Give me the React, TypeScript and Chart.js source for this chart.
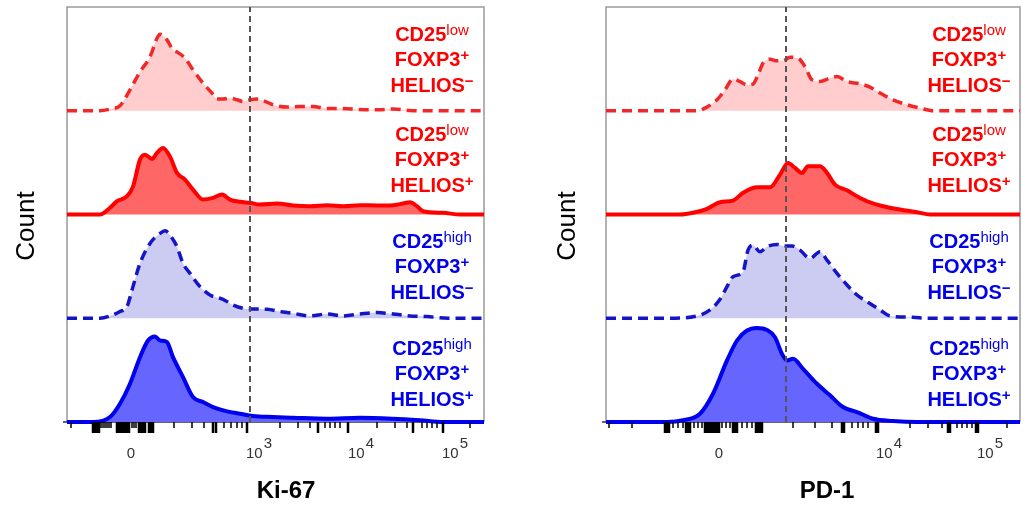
import React, { useEffect, useRef } from 'react';
import { Chart, registerables } from 'chart.js';

Chart.register(...registerables);

// ---- DATA ----
// x: display channel along the biexponential axis (0 = left edge of plot)
// y: event count, each histogram row spans ROW_SPAN units
const ROW_SPAN = 104;
const ROW_OFFSETS = [312, 208, 104, 0];

// Ki-67 panel
const KI67_CD25LO_HELIOSNEG_X = [0, 33, 43, 53, 63, 73, 83, 90, 93, 100, 106, 111, 118, 126, 136, 145, 150, 156, 163, 170, 176, 183, 190, 196, 206, 220, 233, 246, 260, 276, 293, 310, 326, 343, 360, 393, 417];
const KI67_CD25LO_HELIOSNEG_Y = [0, 0, 1.7, 5, 21, 39, 54, 72.7, 76.7, 71, 61, 58.3, 52.7, 41, 27.7, 17.7, 11.7, 11.7, 12.7, 11, 9.3, 11, 11.7, 10.3, 6, 3.7, 4.3, 4.3, 2.3, 2.3, 1.3, 1, 1.7, 0.3, 0, 0, 0];
const KI67_CD25LO_HELIOSPOS_X = [0, 33, 43, 50, 60, 66, 73, 78, 85, 90, 96, 103, 110, 118, 126, 136, 146, 155, 163, 173, 183, 193, 210, 226, 243, 260, 276, 293, 310, 326, 336, 343, 350, 356, 376, 393, 417];
const KI67_CD25LO_HELIOSPOS_Y = [0, 0, 6.7, 13.3, 18.3, 28, 55, 60, 55.7, 61.7, 66.7, 58, 41.7, 35, 25, 15, 16.7, 20, 15, 12.7, 11.7, 10, 11, 9, 8.3, 9.3, 8.3, 9.3, 9, 9.3, 11, 12.3, 8.3, 3.3, 1.7, 0, 0];
const KI67_CD25HI_HELIOSNEG_X = [0, 33, 43, 53, 60, 65, 73, 83, 93, 98, 103, 110, 116, 123, 133, 143, 156, 166, 176, 186, 200, 213, 226, 243, 260, 276, 293, 310, 326, 343, 360, 381, 417];
const KI67_CD25HI_HELIOSNEG_Y = [0, 0, 2.3, 6.7, 11.7, 28.3, 55, 75, 85, 87.7, 83.3, 71.7, 55, 45, 31.7, 23.3, 19, 13.3, 10, 9.3, 9, 6.7, 5, 2.3, 4.3, 2.3, 4.3, 5.7, 4.3, 2.3, 1.7, 0, 0];
const KI67_CD25HI_HELIOSPOS_X = [0, 26, 43, 53, 63, 73, 81, 88, 93, 100, 106, 116, 126, 136, 146, 160, 173, 186, 206, 226, 260, 293, 326, 353, 376, 417];
const KI67_CD25HI_HELIOSPOS_Y = [0, 0, 5, 18.3, 38.3, 65, 81.7, 85.7, 81.7, 80, 65, 45, 25, 20, 15, 10.7, 8.3, 6, 5, 4.3, 3.3, 4.3, 3.3, 1.7, 0, 0];
const KI67_GATE = 183;
const KI67_MAX = 417;
const KI67_MAJOR_TICKS = [26, 28, 30, 32, 50, 52, 54, 56, 58, 60, 62, 72, 74, 76, 78, 82, 84, 86, 146, 149, 180, 251, 281, 346, 376];
const KI67_MINOR_TICKS = [4, 34, 36, 38, 40, 42, 44, 65, 67, 69, 107, 125, 137, 157, 164, 170, 175, 213, 231, 243, 258, 263, 268, 273, 310, 328, 340, 355, 360, 365, 370, 403];
const KI67_LABEL_POS = [64, 192, 294, 388];
const KI67_LABEL_BASE = ['0', '10', '10', '10'];
const KI67_LABEL_EXP = ['', '3', '4', '5'];

// PD-1 panel
const PD1_CD25LO_HELIOSNEG_X = [0, 91, 101, 111, 119, 127, 134, 141, 147, 152, 157, 164, 171, 177, 184, 192, 199, 206, 214, 224, 231, 241, 254, 264, 274, 287, 301, 314, 327, 414];
const PD1_CD25LO_HELIOSNEG_Y = [0, 0, 3.7, 11, 21, 31.7, 29.3, 26, 26.7, 36, 47.7, 51.7, 50, 50, 53.7, 52.7, 44.3, 31, 29.3, 32.7, 34.3, 29.3, 27, 23.7, 17.7, 11, 6, 2.7, 0, 0];
const PD1_CD25LO_HELIOSPOS_X = [0, 74, 87, 101, 114, 127, 137, 151, 164, 174, 182, 189, 196, 202, 214, 221, 229, 241, 251, 261, 277, 294, 311, 324, 414];
const PD1_CD25LO_HELIOSPOS_Y = [0, 0, 1.7, 5.7, 12.3, 14, 21.7, 27.3, 27.3, 40, 51.7, 46.7, 41.7, 48.3, 48.3, 41.7, 30, 24.3, 18.3, 13.3, 8.3, 5, 2.3, 0, 0];
const PD1_CD25HI_HELIOSNEG_X = [0, 61, 91, 104, 114, 121, 127, 137, 142, 147, 154, 161, 171, 179, 186, 194, 204, 214, 221, 231, 241, 251, 261, 274, 284, 307, 321, 414];
const PD1_CD25HI_HELIOSNEG_Y = [0, 0, 2.3, 8.3, 19, 31.7, 41.7, 46.7, 68.3, 73.3, 66.7, 71.7, 74, 72.3, 72.3, 68.3, 60, 66.7, 58.3, 45, 33.3, 23.3, 16.7, 8.3, 2.3, 1, 0, 0];
const PD1_CD25HI_HELIOSPOS_X = [0, 61, 77, 94, 107, 121, 131, 141, 151, 161, 169, 176, 181, 187, 197, 211, 224, 237, 251, 267, 287, 311, 414];
const PD1_CD25HI_HELIOSPOS_Y = [0, 0, 1.7, 8.3, 28.3, 61.7, 81.7, 91.7, 94.3, 92.3, 85, 68.3, 61.7, 63.3, 53.3, 38.3, 26.7, 15, 10, 3.3, 1, 0, 0];
const PD1_GATE = 180;
const PD1_MAX = 414;
const PD1_MAJOR_TICKS = [59, 61, 63, 80, 82, 84, 99, 101, 103, 105, 107, 109, 111, 113, 127, 129, 131, 150, 152, 154, 156, 236, 238, 270, 272, 342, 344, 370, 372];
const PD1_MINOR_TICKS = [3, 26, 67, 72, 77, 88, 92, 96, 116, 120, 124, 136, 141, 146, 187, 209, 226, 246, 252, 257, 262, 304, 322, 336, 351, 356, 361, 366, 401];
const PD1_LABEL_POS = [113, 283, 384];
const PD1_LABEL_BASE = ['0', '10', '10'];
const PD1_LABEL_EXP = ['', '4', '5'];

const POPULATIONS = [
  { main: 'CD25', sup: 'low', helios: '\u2212' },
  { main: 'CD25', sup: 'low', helios: '+' },
  { main: 'CD25', sup: 'high', helios: '\u2212' },
  { main: 'CD25', sup: 'high', helios: '+' },
];

// ---- STYLES ----
const SERIES_STYLES = [
  { line: 'rgb(242,40,40)', fill: 'rgb(255,205,205)', dash: [10, 6], width: 3.5 },
  { line: 'rgb(255,0,0)', fill: 'rgb(255,102,102)', dash: [] as number[], width: 4 },
  { line: 'rgb(20,20,200)', fill: 'rgb(204,204,242)', dash: [10, 6], width: 3.5 },
  { line: 'rgb(0,0,238)', fill: 'rgb(102,102,255)', dash: [] as number[], width: 4 },
];
const TEXT_COLORS = ['#ff0000', '#ff0000', '#0000ee', '#0000ee'];
const FONT = '"Liberation Sans", Arial, Helvetica, sans-serif';

type PanelCfg = {
  xs: number[][];
  ys: number[][];
  gate: number;
  xMax: number;
  major: number[];
  minor: number[];
  labelPos: number[];
  labelBase: string[];
  labelExp: string[];
};

const KI67_PANEL: PanelCfg = {
  xs: [KI67_CD25LO_HELIOSNEG_X, KI67_CD25LO_HELIOSPOS_X, KI67_CD25HI_HELIOSNEG_X, KI67_CD25HI_HELIOSPOS_X],
  ys: [KI67_CD25LO_HELIOSNEG_Y, KI67_CD25LO_HELIOSPOS_Y, KI67_CD25HI_HELIOSNEG_Y, KI67_CD25HI_HELIOSPOS_Y],
  gate: KI67_GATE,
  xMax: KI67_MAX,
  major: KI67_MAJOR_TICKS,
  minor: KI67_MINOR_TICKS,
  labelPos: KI67_LABEL_POS,
  labelBase: KI67_LABEL_BASE,
  labelExp: KI67_LABEL_EXP,
};

const PD1_PANEL: PanelCfg = {
  xs: [PD1_CD25LO_HELIOSNEG_X, PD1_CD25LO_HELIOSPOS_X, PD1_CD25HI_HELIOSNEG_X, PD1_CD25HI_HELIOSPOS_X],
  ys: [PD1_CD25LO_HELIOSNEG_Y, PD1_CD25LO_HELIOSPOS_Y, PD1_CD25HI_HELIOSNEG_Y, PD1_CD25HI_HELIOSPOS_Y],
  gate: PD1_GATE,
  xMax: PD1_MAX,
  major: PD1_MAJOR_TICKS,
  minor: PD1_MINOR_TICKS,
  labelPos: PD1_LABEL_POS,
  labelBase: PD1_LABEL_BASE,
  labelExp: PD1_LABEL_EXP,
};

function makeAxisPlugin(p: PanelCfg) {
  return {
    id: 'flowAxis',
    beforeDatasetsDraw(chart: any) {
      const { ctx, chartArea: a } = chart;
      ctx.save();
      ctx.strokeStyle = '#9a9a9a';
      ctx.lineWidth = 1.5;
      ctx.beginPath();
      ctx.moveTo(a.left, a.bottom);
      ctx.lineTo(a.left, a.top);
      ctx.lineTo(a.right, a.top);
      ctx.lineTo(a.right, a.bottom);
      ctx.stroke();
      ctx.strokeStyle = '#333';
      ctx.beginPath();
      ctx.moveTo(a.left - 4, a.bottom);
      ctx.lineTo(a.right, a.bottom);
      ctx.stroke();
      ctx.restore();
    },
    afterDraw(chart: any) {
      const { ctx, chartArea: a, scales } = chart;
      const xs = scales.x;
      ctx.save();
      ctx.fillStyle = '#000';
      p.major.forEach((v) => {
        const x = xs.getPixelForValue(v);
        ctx.fillRect(x - 1.25, a.bottom, 2.5, 11);
      });
      p.minor.forEach((v) => {
        const x = xs.getPixelForValue(v);
        ctx.fillRect(x - 0.75, a.bottom, 1.5, 6);
      });
      ctx.font = '15px ' + FONT;
      ctx.fillStyle = '#333';
      ctx.textAlign = 'left';
      ctx.textBaseline = 'alphabetic';
      p.labelPos.forEach((v, i) => {
        const base = p.labelBase[i];
        const exp = p.labelExp[i];
        const wb = ctx.measureText(base).width;
        const we = exp ? ctx.measureText(exp).width + 1 : 0;
        const cx = xs.getPixelForValue(v);
        const x0 = cx - (wb + we) / 2;
        ctx.fillText(base, x0, a.bottom + 36);
        if (exp) ctx.fillText(exp, x0 + wb + 1, a.bottom + 26);
      });
      ctx.restore();
    },
  };
}

function FlowPanel({ panel, left, width, padLeft, padRight }: { panel: PanelCfg; left: number; width: number; padLeft: number; padRight: number }) {
  const ref = useRef<HTMLCanvasElement | null>(null);
  useEffect(() => {
    if (!ref.current) return;
    const datasets: any[] = [
      {
        data: [
          { x: panel.gate, y: 0 },
          { x: panel.gate, y: ROW_SPAN * 4 },
        ],
        borderColor: '#555',
        borderWidth: 2,
        borderDash: [6, 4],
        fill: false,
        pointRadius: 0,
        order: -1,
        clip: 4,
      },
    ];
    panel.xs.forEach((xv, r) => {
      const st = SERIES_STYLES[r];
      const off = ROW_OFFSETS[r];
      datasets.push({
        data: xv.map((x, i) => ({ x, y: off + panel.ys[r][i] })),
        borderColor: st.line,
        backgroundColor: st.fill,
        borderWidth: st.width,
        borderDash: st.dash,
        borderJoinStyle: 'round',
        fill: { value: off },
        cubicInterpolationMode: 'monotone',
        pointRadius: 0,
        clip: 6,
        order: r + 1,
      });
    });
    const chart = new Chart(ref.current, {
      type: 'line',
      data: { datasets },
      options: {
        responsive: false,
        animation: false,
        devicePixelRatio: 1,
        layout: { padding: { left: padLeft, right: padRight, top: 7, bottom: 84 } },
        plugins: { legend: { display: false }, tooltip: { enabled: false } },
        scales: {
          x: { type: 'linear', min: 0, max: panel.xMax, display: false },
          y: { type: 'linear', min: 0, max: ROW_SPAN * 4, display: false },
        },
      },
      plugins: [makeAxisPlugin(panel)],
    } as any);
    return () => chart.destroy();
  }, [panel, padLeft, padRight]);
  return (
    <canvas
      ref={ref}
      width={width}
      height={506}
      style={{ position: 'absolute', left, top: 0, width, height: 506 }}
    />
  );
}

const LABEL_CENTERS_Y = [60, 160, 267, 374];

function PopLabels({ cx }: { cx: number }) {
  return (
    <>
      {POPULATIONS.map((p, i) => (
        <div
          key={i}
          style={{
            position: 'absolute',
            left: cx - 70,
            width: 140,
            top: LABEL_CENTERS_Y[i] - 38.25,
            textAlign: 'center',
            fontFamily: FONT,
            fontWeight: 'bold',
            fontSize: 20,
            lineHeight: '25.5px',
            color: TEXT_COLORS[i],
            whiteSpace: 'nowrap',
          }}
        >
          <div>
            {p.main}
            <span style={{ fontSize: 15, fontWeight: 'normal', position: 'relative', top: -6, lineHeight: 0 }}>{p.sup}</span>
          </div>
          <div>
            FOXP3
            <span style={{ fontSize: 15, position: 'relative', top: -6, lineHeight: 0 }}>+</span>
          </div>
          <div>
            HELIOS
            <span style={{ fontSize: 15, position: 'relative', top: -6, lineHeight: 0 }}>{p.helios}</span>
          </div>
        </div>
      ))}
    </>
  );
}

function CountLabel({ cx }: { cx: number }) {
  return (
    <div
      style={{
        position: 'absolute',
        left: cx - 60,
        top: 226 - 15,
        width: 120,
        height: 30,
        lineHeight: '30px',
        textAlign: 'center',
        fontFamily: FONT,
        fontSize: 26,
        color: '#000',
        transform: 'rotate(-90deg)',
      }}
    >
      Count
    </div>
  );
}

function AxisTitle({ cx, text }: { cx: number; text: string }) {
  return (
    <div
      style={{
        position: 'absolute',
        left: cx - 60,
        top: 490 - 15,
        width: 120,
        height: 30,
        lineHeight: '30px',
        textAlign: 'center',
        fontFamily: FONT,
        fontWeight: 'bold',
        fontSize: 24,
        color: '#000',
      }}
    >
      {text}
    </div>
  );
}

export default function App() {
  return (
    <div style={{ position: 'absolute', left: 0, top: 0, width: 1023, height: 506, background: '#fff', overflow: 'hidden' }}>
      <FlowPanel panel={KI67_PANEL} left={0} width={500} padLeft={67} padRight={16} />
      <FlowPanel panel={PD1_PANEL} left={530} width={493} padLeft={76} padRight={3} />
      <PopLabels cx={432} />
      <PopLabels cx={969} />
      <CountLabel cx={25} />
      <CountLabel cx={566} />
      <AxisTitle cx={286} text="Ki-67" />
      <AxisTitle cx={827} text="PD-1" />
    </div>
  );
}
